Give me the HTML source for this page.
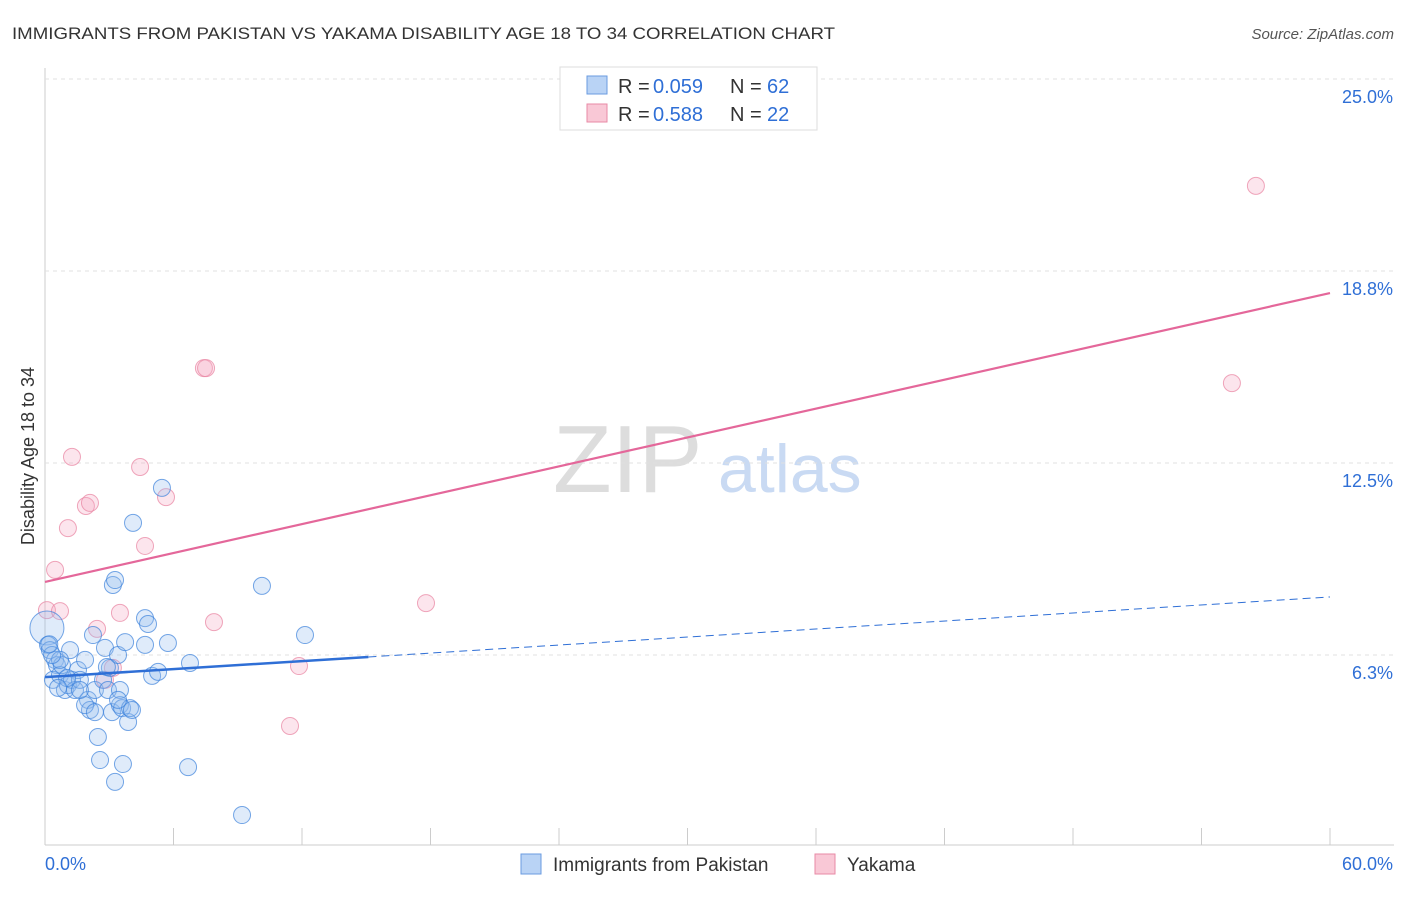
<!DOCTYPE html>
<html><head><meta charset="utf-8"><style>
body{margin:0;background:#fff;font-family:"Liberation Sans",sans-serif}
svg text{font-family:"Liberation Sans",sans-serif}
</style></head><body>
<svg id="c" width="1406" height="892">
<text x="12" y="39" font-size="17" fill="#333" textLength="823" lengthAdjust="spacingAndGlyphs">IMMIGRANTS FROM PAKISTAN VS YAKAMA DISABILITY AGE 18 TO 34 CORRELATION CHART</text>
<text x="1394" y="39" font-size="15" fill="#555" font-style="italic" text-anchor="end">Source: ZipAtlas.com</text>
<text x="553" y="492" font-size="96" fill="#ddd" font-family="Liberation Serif">ZIP</text>
<text x="718" y="492" font-size="68" fill="#c9daf3">atlas</text>
<g id="grid"></g><g id="pts"></g><g id="lines"></g>
<text transform="translate(34,456) rotate(-90)" font-size="18" fill="#333" text-anchor="middle">Disability Age 18 to 34</text>
<g>
<rect x="560" y="67" width="257" height="63" fill="#fff" stroke="#ddd"/>
<rect x="587" y="76" width="20" height="18" fill="#b9d3f5" stroke="#6a9be0"/>
<rect x="587" y="104" width="20" height="18" fill="#f9c8d6" stroke="#e88aa6"/>
<text x="618" y="93" font-size="20" fill="#333">R = </text><text x="653" y="93" font-size="20" fill="#2f6fd6">0.059</text>
<text x="730" y="93" font-size="20" fill="#333">N = </text><text x="767" y="93" font-size="20" fill="#2f6fd6">62</text>
<text x="618" y="121" font-size="20" fill="#333">R = </text><text x="653" y="121" font-size="20" fill="#2f6fd6">0.588</text>
<text x="730" y="121" font-size="20" fill="#333">N = </text><text x="767" y="121" font-size="20" fill="#2f6fd6">22</text>
</g>
<g>
<rect x="521" y="854" width="20" height="20" fill="#b9d3f5" stroke="#6a9be0"/>
<text x="553" y="871" font-size="19" fill="#333">Immigrants from Pakistan</text>
<rect x="815" y="854" width="20" height="20" fill="#f9c8d6" stroke="#e88aa6"/>
<text x="847" y="871" font-size="19" fill="#333">Yakama</text>
</g>
</svg>
<script>
const yTicks=[6.25,12.5,18.75,25];
const yTickLabels=["6.3%","12.5%","18.8%","25.0%"];
const xTickLabels=["0.0%","60.0%"];
const blueX=[0.09,0.14,0.23,0.47,0.56,0.37,0.70,0.93,0.79,1.07,1.26,1.40,1.17,1.54,1.63,1.87,2.01,2.10,2.24,2.33,2.47,2.57,2.71,2.80,2.94,3.03,3.13,3.17,3.27,3.27,3.41,3.50,3.50,3.60,3.64,3.74,3.88,3.97,4.11,4.67,4.81,4.67,5.00,5.28,5.46,5.74,6.68,6.77,9.20,10.13,12.14,0.70,0.33,1.87,2.33,3.41,4.06,2.89,1.63,1.03,0.61,0.20];
const blueY=[7.13,6.58,6.41,6.09,5.92,5.44,5.60,5.11,5.92,5.27,5.44,5.11,6.41,5.76,5.44,6.09,4.79,4.46,6.90,5.11,3.58,2.83,5.44,6.48,5.11,5.83,4.39,8.53,8.69,2.12,6.25,5.11,4.62,4.52,2.70,6.67,4.07,4.52,10.55,7.45,7.26,6.58,5.57,5.70,11.69,6.64,2.60,5.99,1.04,8.50,6.90,6.09,6.25,4.62,4.39,4.79,4.46,5.86,5.11,5.50,5.18,6.60];
const pinkX=[0.09,0.70,0.47,1.07,1.26,1.91,2.10,2.43,2.80,3.17,3.50,4.44,4.67,5.65,7.42,7.52,7.89,11.86,11.44,17.79,55.42,56.54];
const pinkY=[7.71,7.68,9.02,10.38,12.70,11.10,11.20,7.10,5.44,5.83,7.62,12.37,9.80,11.39,15.59,15.59,7.32,5.89,3.94,7.94,15.10,21.52];
const blueTrend=[5.53,0.0435,15.1];
const pinkTrend=[8.63,0.1567];
const NS="http://www.w3.org/2000/svg";
const X0=45,X1=1330,Y0=847,PX=192/6.25;
const sx=v=>X0+(X1-X0)*v/60, sy=v=>Y0-v*PX;
function mk(t,a,p){const e=document.createElementNS(NS,t);for(const k in a)e.setAttribute(k,a[k]);p.appendChild(e);return e;}
const grid=document.getElementById('grid');
let ax=mk('line',{x1:X0,y1:68,x2:X0,y2:845,stroke:'#ccc'},grid);


let bx=mk('line',{x1:X0,y1:845,x2:1394,y2:845,stroke:'#ccc'},grid);


for(let i=0;i<=10;i++){const x=X0+(X1-X0)*i/10;const t=mk('line',{x1:x,y1:828,x2:x,y2:845,stroke:'#ccc'},grid);

}
yTicks.forEach((v,i)=>{const g=mk('line',{x1:X0,y1:sy(v),x2:1394,y2:sy(v),stroke:'#e0e0e0','stroke-dasharray':'4,4'},grid);


const t=mk('text',{x:1393,y:sy(v)+24,'font-size':18,fill:'#2f6fd6','text-anchor':'end'},grid);t.textContent=yTickLabels[i];

});
let xl=mk('text',{x:45,y:870,'font-size':18,fill:'#2f6fd6'},grid);xl.textContent=xTickLabels[0];


let xr=mk('text',{x:1393,y:870,'font-size':18,fill:'#2f6fd6','text-anchor':'end'},grid);xr.textContent=xTickLabels[1];


const pts=document.getElementById('pts');
pinkX.forEach((v,i)=>{const c=mk('circle',{cx:sx(v),cy:sy(pinkY[i]),r:8.5,fill:'rgba(246,170,195,0.3)',stroke:'rgba(232,130,160,0.7)','stroke-width':1},pts);

});
blueX.forEach((v,i)=>{const c=mk('circle',{cx:sx(v),cy:sy(blueY[i]),r:i==0?17:8.5,fill:'rgba(150,190,240,0.3)',stroke:'rgba(60,130,220,0.7)','stroke-width':1},pts);

});
const L=document.getElementById('lines');
let p=mk('line',{x1:sx(0),y1:sy(pinkTrend[0]),x2:sx(60),y2:sy(pinkTrend[0]+pinkTrend[1]*60),stroke:'#e4679a','stroke-width':2.2},L);


let b=mk('line',{x1:sx(0),y1:sy(blueTrend[0]),x2:sx(blueTrend[2]),y2:sy(blueTrend[0]+blueTrend[1]*blueTrend[2]),stroke:'#2f6fd6','stroke-width':2.5},L);


let bd=mk('line',{x1:sx(blueTrend[2]),y1:sy(blueTrend[0]+blueTrend[1]*blueTrend[2]),x2:sx(60),y2:sy(blueTrend[0]+blueTrend[1]*60),stroke:'#2f6fd6','stroke-width':1,'stroke-dasharray':'8,5'},L);


</script>
</body></html>
